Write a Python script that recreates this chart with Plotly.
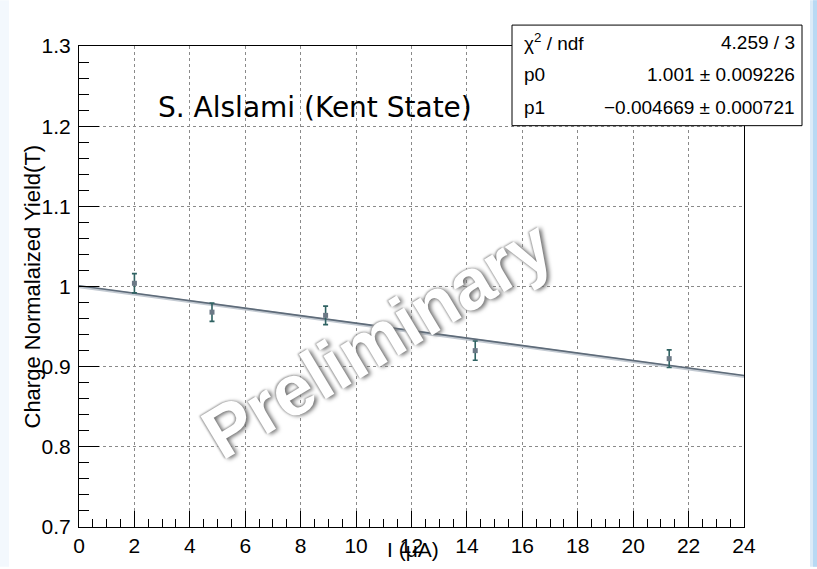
import numpy as np
import plotly.graph_objects as go

# Measured yield vs beam current
current_uA = [2.0, 4.8, 8.9, 14.3, 21.3]
norm_yield = [1.004, 0.968, 0.964, 0.920, 0.910]
yield_err = [0.012, 0.0115, 0.0115, 0.012, 0.011]

# Linear fit parameters (pol1)
p0 = 1.001
p0_err = 0.009226
p1 = -0.004669
p1_err = 0.000721
chi2 = 4.259
ndf = 3

x_range = [0, 24]
y_range = [0.7, 1.3]

# plot frame in pixels
W, H = 817, 569
L, R, T, B = 79, 73, 46, 40
pw, ph = W - L - R, H - T - B


def px(xp):
    return (xp - L) / pw


def py(yp):
    return (H - B - yp) / ph


font_main = "Liberation Sans, Arial, Helvetica, sans-serif"

fit_x = np.linspace(x_range[0], x_range[1], 50)
fit_y = p0 + p1 * fit_x

fig = go.Figure()

# soft underline of the fit curve
fig.add_trace(go.Scatter(
    x=fit_x, y=fit_y - 0.0012, mode="lines",
    line=dict(color="#c3cad2", width=3), hoverinfo="skip", showlegend=False))
fig.add_trace(go.Scatter(
    x=fit_x, y=fit_y, mode="lines",
    line=dict(color="#5e6b79", width=1.6), hoverinfo="skip", showlegend=False))

fig.add_trace(go.Scatter(
    x=current_uA, y=norm_yield, mode="markers",
    marker=dict(symbol="square", size=5, color="#6c7986"),
    error_y=dict(type="data", array=yield_err, visible=True,
                 color="#2f6262", thickness=1.6, width=2.5),
    showlegend=False))

axis_common = dict(
    showline=True, linecolor="black", linewidth=1, mirror=True,
    ticks="inside", tickcolor="black", tickwidth=1,
    showgrid=True, gridcolor="#8a8a8a", griddash="dot", gridwidth=1,
    zeroline=False,
    tickfont=dict(family=font_main, size=21, color="black"),
)

fig.update_xaxes(
    range=x_range, dtick=2, tick0=0, ticklen=16,
    minor=dict(dtick=0.5, ticks="inside", ticklen=8, tickcolor="black", showgrid=False),
    ticklabelstandoff=0,
    **axis_common)
fig.update_yaxes(
    range=y_range, dtick=0.1, tick0=0.7, ticklen=20,
    minor=dict(dtick=0.02, ticks="inside", ticklen=10, tickcolor="black", showgrid=False),
    ticklabelstandoff=3,
    **axis_common)

shapes = [
    # statistics box
    dict(type="rect", xref="paper", yref="paper",
         x0=px(512), x1=px(802), y0=py(126), y1=py(25),
         fillcolor="white", line=dict(color="black", width=1), layer="above"),
    # pale blue window edges
    dict(type="rect", xref="paper", yref="paper",
         x0=px(810), x1=px(817), y0=py(569), y1=py(0),
         fillcolor="#dcebf8", line=dict(width=0), layer="above"),
    dict(type="rect", xref="paper", yref="paper",
         x0=px(813), x1=px(817), y0=py(569), y1=py(0),
         fillcolor="#b9d9f3", line=dict(width=0), layer="above"),
    dict(type="rect", xref="paper", yref="paper",
         x0=px(0), x1=px(9), y0=py(569), y1=py(0),
         fillcolor="#f3f8fd", line=dict(width=0), layer="below"),
]

stat_rows = [
    ("χ<sup>2</sup> / ndf", f"{chi2:.3f} / {ndf}"),
    ("p0", f"{p0:.3f} ± {p0_err:.6f}"),
    ("p1", f"−{abs(p1):.6f} ± {p1_err:.6f}"),
]
row_y = [42, 75, 108]

annotations = []
for (lab, val), yy in zip(stat_rows, row_y):
    annotations.append(dict(
        x=px(522), y=py(yy), xref="paper", yref="paper", text=lab,
        showarrow=False, xanchor="left", yanchor="middle",
        font=dict(family=font_main, size=19, color="black")))
    annotations.append(dict(
        x=px(797), y=py(yy), xref="paper", yref="paper", text=val,
        showarrow=False, xanchor="right", yanchor="middle",
        font=dict(family=font_main, size=19, color="black")))

annotations += [
    dict(x=px(315), y=py(108), xref="paper", yref="paper",
         text="S. Alslami (Kent State)", showarrow=False,
         xanchor="center", yanchor="middle",
         font=dict(family="DejaVu Sans", size=28, color="black")),
    dict(x=px(413), y=py(552), xref="paper", yref="paper",
         text="I (μA)", showarrow=False, xanchor="center", yanchor="middle",
         font=dict(family=font_main, size=21, color="black")),
    dict(x=px(32), y=0.5, xref="paper", yref="paper",
         text="Charge Normalaized Yield(T)", showarrow=False, textangle=-90,
         xanchor="center", yanchor="middle",
         font=dict(family=font_main, size=22, color="black")),
    dict(x=px(377), y=py(340), xref="paper", yref="paper",
         text="Preliminary", showarrow=False, textangle=-31,
         xanchor="center", yanchor="middle",
         font=dict(family=font_main, size=72, color="white", weight="bold",
                   shadow="2px 2px 4px #6e6e6e, -1px -1px 2px #a8a8a8")),
]

fig.update_layout(
    width=W, height=H,
    margin=dict(l=L, r=R, t=T, b=B, pad=0),
    paper_bgcolor="white", plot_bgcolor="white",
    shapes=shapes, annotations=annotations,
    showlegend=False,
)

fig.write_html("out.html")
